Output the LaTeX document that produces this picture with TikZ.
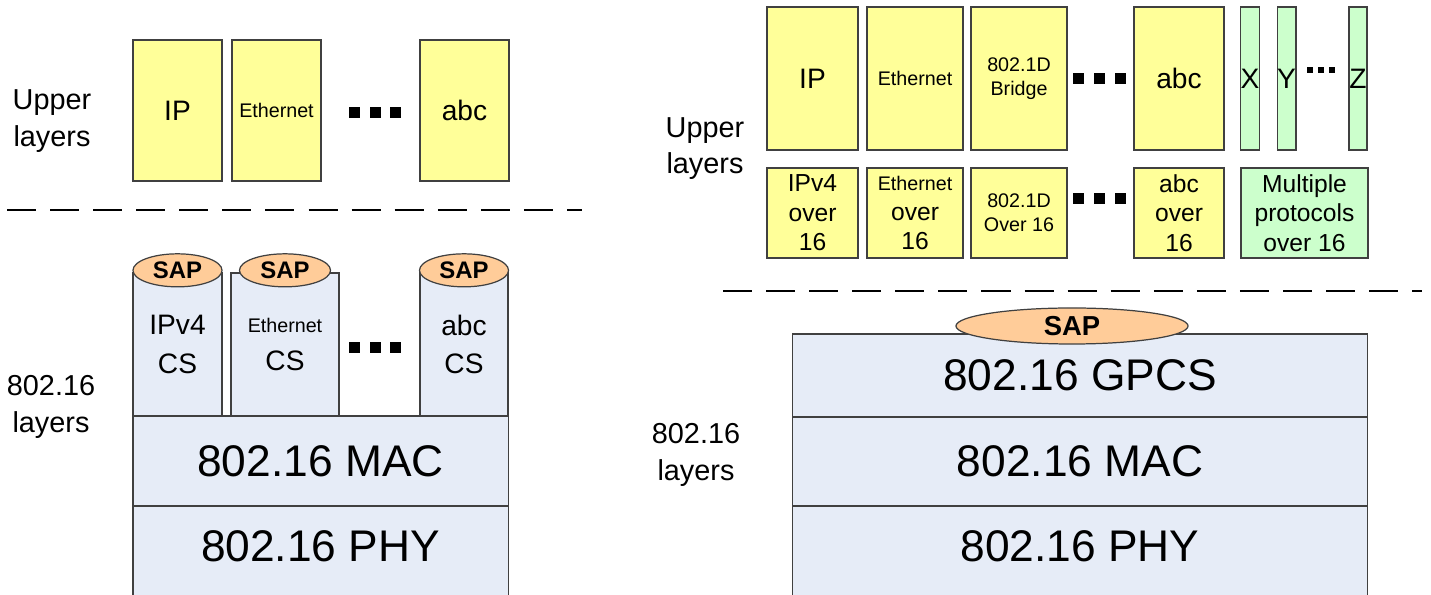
\documentclass[tikz,border=0pt]{standalone}
\usepackage{fontspec}
\setmainfont{Liberation Sans}
\usepackage{tikz}
\usetikzlibrary{shapes.geometric,positioning}
\definecolor{boxyellow}{HTML}{FFFF99}
\definecolor{boxgreen}{HTML}{CCFFCC}
\definecolor{boxblue}{HTML}{E6ECF7}
\definecolor{sapfill}{HTML}{FFCC99}
\newcommand{\txtbig}{\fontsize{8}{11}\selectfont}
\newcommand{\txtmid}{\fontsize{7}{8.4}\selectfont}
\newcommand{\txtsmall}{\fontsize{5.6}{6.9}\selectfont}
\newcommand{\txthuge}{\fontsize{12.6}{15}\selectfont}
\tikzset{
  lay/.style={draw=black!75, line width=0.35pt, inner sep=0pt, align=center},
  yel/.style={lay, fill=boxyellow},
  grn/.style={lay, fill=boxgreen},
  blu/.style={lay, fill=boxblue},
  sap/.style={ellipse, draw=black!75, line width=0.35pt, fill=sapfill, inner sep=0pt,
    font=\bfseries\fontsize{6.8}{8}\selectfont},
  sep/.style={line width=0.8pt, dash pattern=on 8.25pt off 4pt},
  dot/.style={fill=black, inner sep=0pt, minimum size=0.11cm},
  minidot/.style={fill=black, inner sep=0pt, minimum size=0.055cm},
  side/.style={align=center, font=\fontsize{8.2}{10.3}\selectfont},
}

\begin{document}
\begin{tikzpicture}[x=0.01cm,y=-0.01cm]
      \clip (0,0) rectangle (1431,595);

      % left: one CS per protocol
      \node[side] at (52,121) (upL) {Upper\\layers};
      \node[side] at (51,407) (lay16L) {802.16\\layers};

      \node[yel, minimum width=0.89cm, minimum height=1.41cm, font=\txtbig] at (177.5,110.5) (ipL) {IP};
      \node[yel, minimum width=0.89cm, minimum height=1.41cm, font=\txtsmall] at (276.5,110.5) (ethL) {Ethernet};
      \node[yel, minimum width=0.89cm, minimum height=1.41cm, font=\txtbig] at (464.5,110.5) (abcL) {abc};
      \node[dot] at (354,113) (dL1) {}; \node[dot] at (375,113) (dL2) {}; \node[dot] at (395,113) (dL3) {};

      \coordinate (sepL1) at (7,210);
      \coordinate (sepL2) at (582,210);
      \draw[sep] (sepL1)--(sepL2);

      \node[blu, minimum width=0.89cm, minimum height=1.43cm, font=\txtbig] at (177.5,344.5) (ipcs) {IPv4\\CS};
      \node[blu, minimum width=1.08cm, minimum height=1.43cm, font=\txtbig] at (285,344.5) (ethcs) {{\txtsmall Ethernet}\\CS};
      \node[blu, minimum width=0.88cm, minimum height=1.43cm, font=\txtbig] at (464,344.5) (abccs) {abc\\CS};
      \node[sap, minimum width=0.89cm, minimum height=0.33cm] at ([yshift=0.02cm]ipcs.north) (sapA) {SAP};
      \node[sap, minimum width=0.91cm, minimum height=0.33cm] at ([yshift=0.02cm]ethcs.north) (sapB) {SAP};
      \node[sap, minimum width=0.89cm, minimum height=0.33cm] at ([yshift=0.02cm]abccs.north) (sapC) {SAP};
      \node[dot] at (354,348) (dL4) {}; \node[dot] at (375,348) (dL5) {}; \node[dot] at (395,348) (dL6) {};

      \node[blu, minimum width=3.75cm, minimum height=0.90cm, font=\txthuge] at (320.5,461) (macL) {802.16 MAC};
      \node[blu, minimum width=3.75cm, minimum height=1.20cm, anchor=north] at (320.5,506) (phyL) {};
      \node[font=\txthuge] at (320.5,546) (phyLt) {802.16 PHY};

      % right: one generic CS
      \node[side] at (705,148.5) (upR) {Upper\\layers};
      \node[side] at (696,455) (lay16R) {802.16\\layers};

      \node[yel, minimum width=0.91cm, minimum height=1.43cm, font=\txtbig] at (812.5,78.5) (ipR) {IP};
      \node[yel, minimum width=0.96cm, minimum height=1.43cm, font=\txtsmall] at (915,78.5) (ethR) {Ethernet};
      \node[yel, minimum width=0.96cm, minimum height=1.43cm, font=\txtsmall] at (1019,78.5) (brR) {802.1D\\Bridge};
      \node[yel, minimum width=0.90cm, minimum height=1.43cm, font=\txtbig] at (1179,78.5) (abcR) {abc};
      \node[grn, minimum width=0.18cm, minimum height=1.43cm, font=\txtbig] at (1250,78.5) (xR) {X};
      \node[grn, minimum width=0.17cm, minimum height=1.43cm, font=\txtbig] at (1286.5,78.5) (yR) {Y};
      \node[grn, minimum width=0.18cm, minimum height=1.43cm, font=\txtbig] at (1358,78.5) (zR) {Z};
      \node[dot] at (1078,79) (dR1) {}; \node[dot] at (1099,79) (dR2) {}; \node[dot] at (1120,79) (dR3) {};
      \node[minidot] at (1310,70) (dR7) {}; \node[minidot] at (1321,70) (dR8) {}; \node[minidot] at (1332,70) (dR9) {};

      \node[yel, minimum width=0.91cm, minimum height=0.90cm, font=\txtmid] at (812.5,213) (ip16) {IPv4\\over\\16};
      \node[yel, minimum width=0.96cm, minimum height=0.90cm, font=\txtmid] at (915,213) (eth16) {{\txtsmall Ethernet}\\over\\16};
      \node[yel, minimum width=0.96cm, minimum height=0.90cm, font=\txtsmall] at (1019,213) (br16) {802.1D\\Over 16};
      \node[yel, minimum width=0.90cm, minimum height=0.90cm, font=\txtmid] at (1179,213) (abc16) {abc\\over\\16};
      \node[grn, minimum width=1.27cm, minimum height=0.90cm, font=\txtmid] at (1304.5,213) (multi16) {Multiple\\protocols\\over 16};
      \node[dot] at (1078,199) (dR4) {}; \node[dot] at (1099,199) (dR5) {}; \node[dot] at (1120,199) (dR6) {};

      \coordinate (sepR1) at (723,291);
      \coordinate (sepR2) at (1422,291);
      \draw[sep] (sepR1)--(sepR2);

      \node[blu, minimum width=5.74cm, minimum height=0.83cm, font=\txthuge] at (1080,375.5) (gpcs) {802.16 GPCS};
      \node[sap, minimum width=2.32cm, minimum height=0.36cm, font=\bfseries\fontsize{7.8}{9}\selectfont] at (1072,326) (sapR) {SAP};
      \node[blu, minimum width=5.74cm, minimum height=0.89cm, font=\txthuge] at (1080,461.5) (macR) {802.16 MAC};
      \node[blu, minimum width=5.74cm, minimum height=1.20cm, anchor=north] at (1080,506) (phyR) {};
      \node[font=\txthuge] at (1080,546) (phyRt) {802.16 PHY};
    \end{tikzpicture}
\end{document}
